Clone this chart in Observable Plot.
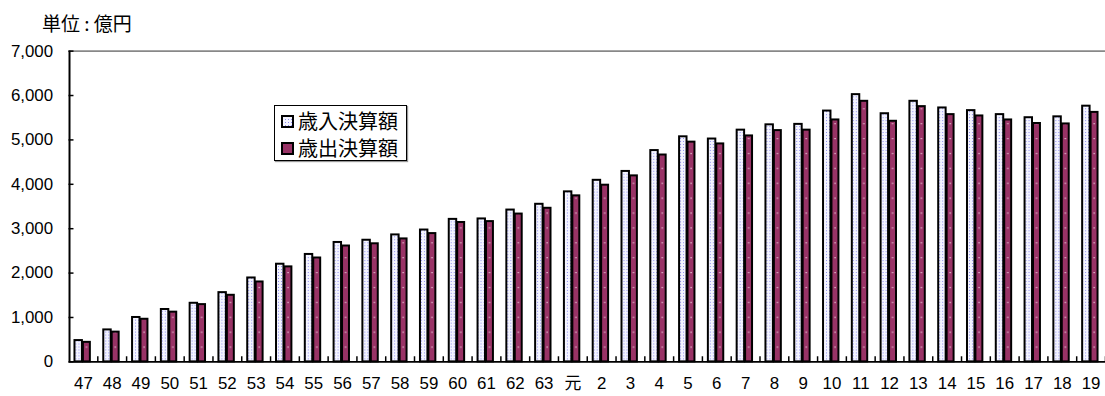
<!DOCTYPE html>
<html>
<head>
<meta charset="utf-8">
<script src="https://cdn.jsdelivr.net/npm/d3@7"></script>
<script src="https://cdn.jsdelivr.net/npm/@observablehq/plot@0.6"></script>
<style>
  html, body { margin: 0; padding: 0; background: #fff; overflow: hidden; }
  #wrap { position: relative; width: 1105px; height: 396px; overflow: hidden; }
  #chart { position: absolute; left: 0; top: 0; }
  #title { position: absolute; left: 42px; top: 12px; font: 19px "Noto Sans CJK JP", sans-serif; line-height: 22px; color: #000; white-space: pre; }
  #legend { position: absolute; left: 274px; top: 105px; width: 131px; height: 54px; border: 1px solid #000;
            box-shadow: 1px 1px 1px #999; background: #fff; font: 20px "Noto Sans CJK JP", sans-serif; color: #000; }
  .item { position: absolute; left: 6px; height: 24px; line-height: 24px; display: flex; align-items: center; white-space: nowrap; }
  .item svg { margin-right: 4px; }
</style>
</head>
<body>
<div id="wrap">
  <div id="chart"></div>
  <div id="title">単位 : 億円</div>
  <div id="legend"></div>
</div>
<script>
const categories = ["47","48","49","50","51","52","53","54","55","56","57","58","59","60","61","62","63","元",
  "2","3","4","5","6","7","8","9","10","11","12","13","14","15","16","17","18","19"];
const income = [480,720,1000,1180,1320,1560,1890,2200,2420,2690,2740,2860,2970,3210,3220,3420,3550,3830,
  4090,4290,4760,5070,5020,5220,5340,5350,5650,6020,5590,5870,5720,5660,5570,5500,5520,5760];
const expenditure = [440,670,960,1120,1290,1500,1800,2140,2340,2610,2660,2770,2890,3140,3160,3330,3460,3740,
  3980,4190,4660,4950,4910,5090,5210,5220,5450,5870,5420,5750,5570,5540,5450,5370,5360,5620];
const seriesNames = ["歳入決算額", "歳出決算額"];
const yTicks = [0,1000,2000,3000,4000,5000,6000,7000];

const incomeData = categories.map((c, i) => ({cat: c, value: income[i]}));
const expData = categories.map((c, i) => ({cat: c, value: expenditure[i]}));

const plot = Plot.plot({
  width: 1113,
  height: 396,
  marginLeft: 69,
  marginRight: 0,
  marginTop: 51,
  marginBottom: 32,
  style: {fontFamily: "'Liberation Sans', 'Noto Sans CJK JP', sans-serif", fontSize: "17px", color: "#000", background: "transparent"},
  x: {type: "band", domain: categories, paddingInner: 0, paddingOuter: 0, round: false, label: null},
  y: {domain: [0, 7000], label: null},
  marks: [
    Plot.ruleY([7000], {stroke: "#888", strokeWidth: 2}),
    Plot.barY(incomeData, {x: "cat", y: "value", fill: "url(#patIncome)", stroke: "#000", strokeWidth: 2, insetLeft: 6, insetRight: 15.5}),
    Plot.barY(expData, {x: "cat", y: "value", fill: "url(#patExp)", stroke: "#000", strokeWidth: 2, insetLeft: 14.5, insetRight: 7.5}),
    Plot.ruleY([0], {stroke: "#000", strokeWidth: 2}),
    Plot.ruleX(categories, {x: d => d, dx: 14.5, y1: 0, y2: 115, stroke: "#000", strokeWidth: 1.5}),
    Plot.ruleX([categories[0]], {x: d => d, dx: -14, stroke: "#000", strokeWidth: 2}),
    Plot.tickY(yTicks, {y: d => d, x: () => categories[0], insetRight: 24, stroke: "#000", strokeWidth: 1.5}),
    Plot.axisY({ticks: yTicks, tickSize: 0, tickPadding: 16, tickFormat: d3.format(","), fontSize: 17, label: null}),
    Plot.axisX({tickSize: 0, tickPadding: 15, fontSize: 17, label: null})
  ]
});

plot.insertAdjacentHTML("afterbegin", `
<defs>
  <pattern id="patIncome" patternUnits="userSpaceOnUse" width="3" height="3">
    <rect width="3" height="3" fill="#f4f4ff"></rect>
    <rect x="1" y="1" width="1" height="1" fill="#8c8cf0"></rect>
  </pattern>
  <pattern id="patExp" patternUnits="userSpaceOnUse" x="69" y="4" width="29" height="15">
    <rect width="29" height="15" fill="#993366"></rect>
    <rect x="17.5" y="0" width="1.2" height="1.2" fill="#f0d8e4"></rect>
  </pattern>
</defs>`);
document.getElementById("chart").appendChild(plot);

const fills = ["url(#patIncome)", "#993366"];
const legend = document.getElementById("legend");
seriesNames.forEach((name, i) => {
  const item = document.createElement("div");
  item.className = "item";
  item.style.top = (3 + i * 27) + "px";
  item.innerHTML = `<svg width="13" height="13"><rect x="1" y="1" width="11" height="11" fill="${fills[i]}" stroke="#000" stroke-width="2"></rect></svg><span>${name}</span>`;
  legend.appendChild(item);
});
</script>
</body>
</html>
